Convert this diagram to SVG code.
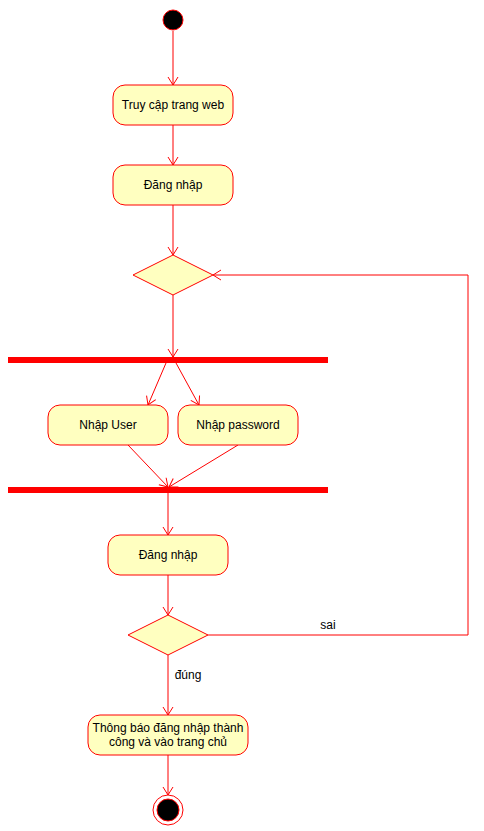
<svg xmlns="http://www.w3.org/2000/svg" width="484" height="831" viewBox="0 0 484 831">
<style>
.act{fill:#ffffc0;stroke:#ff0000;stroke-width:1}
.bar{fill:#ff0000;stroke:none}
.edge{fill:none;stroke:#ff0000;stroke-width:1}
text{font-family:"Liberation Sans",Arial,sans-serif;font-size:12px;fill:#000000;text-anchor:middle}
</style>
<defs>
<marker id="arr" viewBox="-10 -6 12 12" refX="0" refY="0" markerWidth="12" markerHeight="12" markerUnits="userSpaceOnUse" orient="auto">
<path d="M-8,-5 L0,0 L-8,5" fill="none" stroke="#ff0000" stroke-width="1"/>
</marker>
</defs>
<rect width="484" height="831" fill="#ffffff"/>
<g id="connectors">
<path class="edge" d="M173,31 L173,85" marker-end="url(#arr)"/>
<path class="edge" d="M173,125 L173,165" marker-end="url(#arr)"/>
<path class="edge" d="M173,205 L173,255" marker-end="url(#arr)"/>
<path class="edge" d="M173,295 L173,357" marker-end="url(#arr)"/>
<path class="edge" d="M166,363 L148,405" marker-end="url(#arr)"/>
<path class="edge" d="M176,363 L199,405" marker-end="url(#arr)"/>
<path class="edge" d="M128,445 L168,487" marker-end="url(#arr)"/>
<path class="edge" d="M238,445 L169,487" marker-end="url(#arr)"/>
<path class="edge" d="M168,493 L168,535" marker-end="url(#arr)"/>
<path class="edge" d="M168,575 L168,615" marker-end="url(#arr)"/>
<path class="edge" d="M208,635 L468,635 L468,275 L213,275" marker-end="url(#arr)"/>
<path class="edge" d="M168,655 L168,715" marker-end="url(#arr)"/>
<path class="edge" d="M168,755 L168,795" marker-end="url(#arr)"/>
<text x="328" y="629">sai</text>
<text x="188" y="679">đúng</text>
</g>
<g id="start"><circle cx="173" cy="20" r="10" fill="#000000" stroke="#ff0000" stroke-width="1"/></g>
<g id="truycap"><rect class="act" x="113" y="85" width="120" height="40" rx="12" ry="12"/><text x="173" y="109">Truy cập trang web</text></g>
<g id="dangnhap1"><rect class="act" x="113" y="165" width="120" height="40" rx="12" ry="12"/><text x="173" y="189">Đăng nhập</text></g>
<g id="decision1"><path class="act" d="M133,275 L173,255 L213,275 L173,295 Z"/></g>
<g id="fork"><rect class="bar" x="8" y="357" width="320" height="6"/></g>
<g id="nhapuser"><rect class="act" x="48" y="405" width="120" height="40" rx="12" ry="12"/><text x="108" y="429">Nhập User</text></g>
<g id="nhappass"><rect class="act" x="178" y="405" width="120" height="40" rx="12" ry="12"/><text x="238" y="429">Nhập password</text></g>
<g id="join"><rect class="bar" x="8" y="487" width="320" height="6"/></g>
<g id="dangnhap2"><rect class="act" x="108" y="535" width="120" height="40" rx="12" ry="12"/><text x="168" y="559">Đăng nhập</text></g>
<g id="decision2"><path class="act" d="M128,635 L168,615 L208,635 L168,655 Z"/></g>
<g id="thongbao"><rect class="act" x="88" y="715" width="160" height="40" rx="12" ry="12"/><text x="168" y="732">Thông báo đăng nhập thành</text><text x="168" y="746">công và vào trang chủ</text></g>
<g id="end"><circle cx="168" cy="810" r="15" fill="#ffffff" stroke="#ff0000" stroke-width="1"/><circle cx="168" cy="810" r="11" fill="#000000" stroke="#ff0000" stroke-width="1"/></g>
</svg>
